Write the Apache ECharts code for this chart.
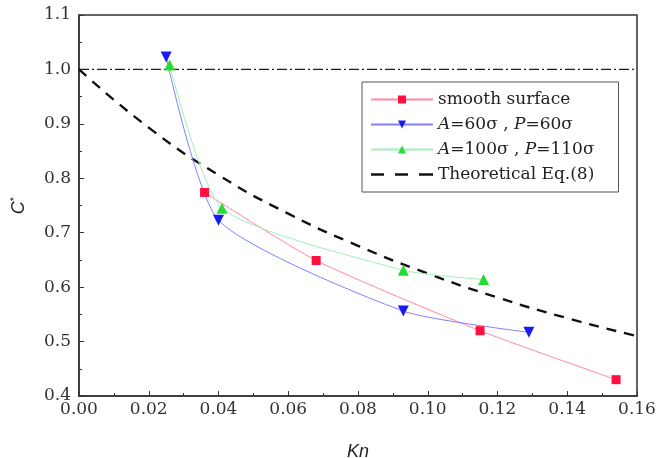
<!DOCTYPE html>
<html>
<head>
<meta charset="utf-8">
<script src="https://cdn.jsdelivr.net/npm/echarts@6/dist/echarts.min.js"></script>
<style>html,body{margin:0;padding:0;background:#fff}#c{width:658px;height:458px}</style>
</head>
<body>
<div id="c"></div>
<script>
var smoothKn = [0.036, 0.068, 0.115, 0.154];
var smoothC = [0.774, 0.649, 0.520, 0.430];
var a60Kn = [0.025, 0.040, 0.093, 0.129];
var a60C = [1.023, 0.723, 0.556, 0.517];
var a100Kn = [0.026, 0.041, 0.093, 0.116];
var a100C = [1.008, 0.745, 0.631, 0.614];
var theoKn = [0.00, 0.02, 0.04, 0.06, 0.08, 0.10, 0.12, 0.14, 0.16];
var theoC = [1.000, 0.893, 0.806, 0.735, 0.676, 0.625, 0.581, 0.543, 0.510];
var refKn = [0.00, 0.16];
var refC = [1.0, 1.0];
var xTicks = ['0.00','0.02','0.04','0.06','0.08','0.10','0.12','0.14','0.16'];
var yTicks = ['0.4','0.5','0.6','0.7','0.8','0.9','1.0','1.1'];

function pairs(xs, ys){ return xs.map(function(x,i){return [x, ys[i]];}); }

var FONT = 'DejaVu Serif';
var chart = echarts.init(document.getElementById('c'));
chart.setOption({
  animation: false,
  backgroundColor: '#fff',
  grid: {left: 79, right: 21, top: 15, bottom: 62, show: true, borderColor: '#333', borderWidth: 1.5,
         backgroundColor: 'transparent', containLabel: false, outerBoundsMode: 'none'},
  xAxis: {
    type: 'value', min: 0, max: 0.16, interval: 0.02,
    name: 'Kn', nameLocation: 'middle', nameGap: 47,
    nameTextStyle: {fontFamily: 'Liberation Sans', fontStyle: 'italic', fontSize: 18, color: '#222'},
    axisLine: {show: true, onZero: false, lineStyle: {color: '#333', width: 1.5}},
    axisTick: {show: true, inside: true, length: 5, lineStyle: {color: '#333'}},
    minorTick: {show: true, splitNumber: 2, length: 3, lineStyle: {color: '#333'}},
    splitLine: {show: false},
    axisLabel: {fontFamily: FONT, fontSize: 17, color: '#333', margin: 5,
      formatter: function(v){ var i = Math.round(v/0.02); return xTicks[i]; }}
  },
  yAxis: {
    type: 'value', min: 0.4, max: 1.1, interval: 0.1,
    name: '{c|C}{s|*}', nameLocation: 'middle', nameGap: 51, nameRotate: 90,
    nameTextStyle: {rich: {
      c: {fontFamily: 'Liberation Sans', fontStyle: 'italic', fontSize: 18, color: '#222'},
      s: {fontFamily: 'Liberation Sans', fontSize: 11, color: '#222', verticalAlign: 'top', padding: [0,0,8,0]}
    }},
    axisLine: {show: true, onZero: false, lineStyle: {color: '#333', width: 1.5}},
    axisTick: {show: true, inside: true, length: 5, lineStyle: {color: '#333'}},
    minorTick: {show: true, splitNumber: 2, length: 3, lineStyle: {color: '#333'}},
    splitLine: {show: false},
    axisLabel: {fontFamily: FONT, fontSize: 17, color: '#333', margin: 8,
      formatter: function(v){ var i = Math.round((v-0.4)/0.1); return yTicks[i]; }}
  },
  legend: {
    left: 362, top: 82, orient: 'vertical',
    padding: [9, 24, 9, 8], itemGap: 8,
    borderColor: '#555', borderWidth: 1, backgroundColor: '#fff',
    itemWidth: 62, itemHeight: 10,
    textStyle: {fontFamily: FONT, fontSize: 17, color: '#222',
      rich: {i: {fontFamily: FONT, fontStyle: 'italic', fontSize: 17, color: '#222'},
             n: {fontFamily: FONT, fontSize: 17, color: '#222'}}},
    formatter: function(name){
      if (name === 'a60') return '{i|A}{n|=60σ , }{i|P}{n|=60σ}';
      if (name === 'a100') return '{i|A}{n|=100σ , }{i|P}{n|=110σ}';
      return name;
    },
    data: ['smooth surface', 'a60', 'a100',
      {name: 'Theoretical Eq.(8)', icon: 'path://M0,4H13V6.5H0Z M24,4H37V6.5H24Z M48,4H62V6.5H48Z'}]
  },
  series: [
    {name: 'ref', type: 'line', data: pairs(refKn, refC), symbol: 'none', silent: true,
     lineStyle: {color: '#222', width: 1.2, type: [10, 3, 2, 3]}},
    {name: 'Theoretical Eq.(8)', type: 'line', data: pairs(theoKn, theoC), symbol: 'none', smooth: true,
     lineStyle: {color: '#111', width: 2.4, type: [10, 8]}, itemStyle: {color: '#111'}},
    {name: 'smooth surface', type: 'line', data: pairs(smoothKn, smoothC), smooth: 0.2,
     symbol: 'rect', symbolSize: 9,
     lineStyle: {color: '#ff8aa0', width: 1}, itemStyle: {color: '#ff1040'}},
    {name: 'a60', type: 'line', data: pairs(a60Kn, a60C), smooth: 0.2,
     symbol: 'triangle', symbolRotate: 180, symbolSize: 11,
     lineStyle: {color: '#8080ff', width: 1}, itemStyle: {color: '#1a1aee'}},
    {name: 'a100', type: 'line', data: pairs(a100Kn, a100C), smooth: 0.2,
     symbol: 'triangle', symbolSize: 11,
     lineStyle: {color: '#a0f0b8', width: 1}, itemStyle: {color: '#22dd33'}}
  ]
});
</script>
</body>
</html>
